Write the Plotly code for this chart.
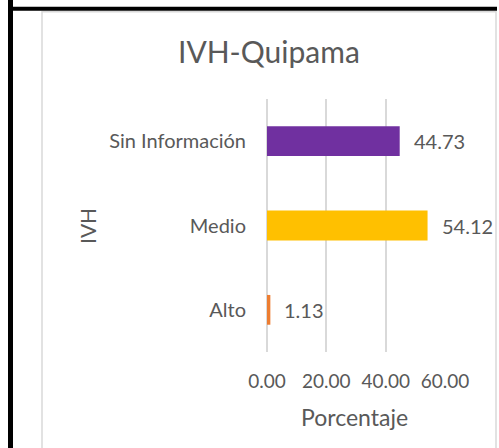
import plotly.graph_objects as go

categories = ["Alto", "Medio", "Sin Información"]
values = [1.13, 54.12, 44.73]
colors = ["#ED7D31", "#FFC000", "#7030A0"]
tick_vals = [0, 20, 40, 60]

W, H = 499, 448
L, R, T, B = 267, 445, 98.5, 352.5

def px(x):
    return (x - L) / (R - L)

def py(y):
    return (B - y) / (B - T)

font = "Lato"
gray = "#595959"

fig = go.Figure()
fig.add_trace(go.Bar(
    y=categories, x=values, orientation="h",
    marker=dict(color=colors, line=dict(width=0)),
    width=0.353, showlegend=False, hoverinfo="skip",
))

for c, v in zip(categories, values):
    fig.add_annotation(x=v, y=c, xref="x", yref="y", text=f"{v:.2f}",
                       showarrow=False, xanchor="left", xshift=12,
                       font=dict(family=font, size=20, color=gray))

shapes = [
    dict(type="rect", xref="paper", yref="paper", x0=px(42), x1=px(496), y0=py(470), y1=py(11),
         line=dict(color="#D9D9D9", width=1.5), fillcolor="rgba(0,0,0,0)", layer="below"),
    dict(type="rect", xref="paper", yref="paper", x0=px(8), x1=px(497), y0=py(10), y1=py(6),
         line=dict(width=0), fillcolor="black"),
    dict(type="rect", xref="paper", yref="paper", x0=px(8), x1=px(13), y0=py(460), y1=py(-2),
         line=dict(width=0), fillcolor="black"),
]

annots = [
    dict(text="IVH-Quipama", x=px(269), y=py(50), font=dict(family=font, size=30, color=gray)),
    dict(text="Porcentaje", x=px(354), y=py(418), font=dict(family=font, size=23, color=gray)),
    dict(text="IVH", x=px(88), y=py(226), textangle=-90, font=dict(family=font, size=21, color=gray)),
]
for a in annots:
    fig.add_annotation(xref="paper", yref="paper", showarrow=False,
                       xanchor="center", yanchor="middle", **a)

fig.update_layout(
    width=W, height=H,
    margin=dict(l=L, r=W - R, t=T, b=H - B),
    paper_bgcolor="white", plot_bgcolor="white",
    shapes=shapes,
    xaxis=dict(range=[0, 60], tickvals=tick_vals, tickformat=".2f",
               showgrid=True, gridcolor="#D9D9D9", gridwidth=1.5,
               zeroline=True, zerolinecolor="#D9D9D9", zerolinewidth=1.5,
               showline=False, ticks="", ticklabelstandoff=16,
               tickfont=dict(family=font, size=19, color=gray)),
    yaxis=dict(range=[-0.5, 2.5], showgrid=False, zeroline=False, showline=False,
               ticks="", ticklabelstandoff=20,
               tickfont=dict(family=font, size=20, color=gray)),
)

fig.write_html("out.html", config={"displayModeBar": False},
               post_script="document.body.style.margin='0';document.body.style.overflow='hidden';")
